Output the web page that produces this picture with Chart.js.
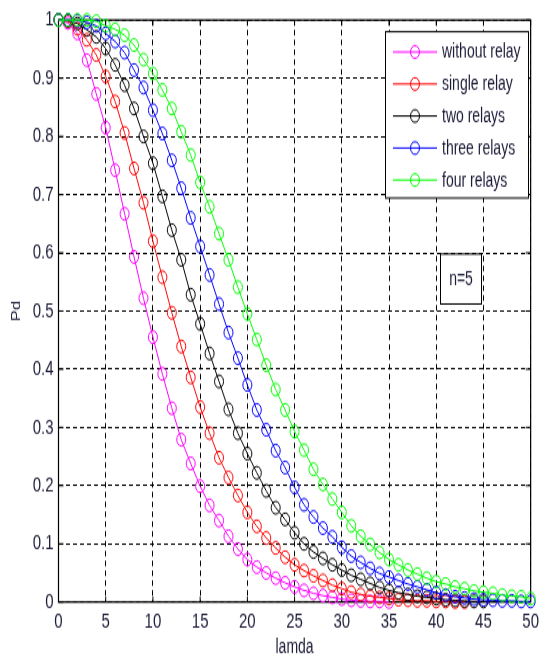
<!DOCTYPE html>
<html>
<head>
<meta charset="utf-8">
<script src="https://cdn.jsdelivr.net/npm/chart.js@4.4.1/dist/chart.umd.min.js"></script>
<style>
body{margin:0;background:#fff;}
</style>
</head>
<body>
<canvas id="grafica" width="544" height="470" style="width:544px;height:660px;display:block"></canvas>
<script>
// values
var lamda = [0,1,2,3,4,5,6,7,8,9,10,11,12,13,14,15,16,17,18,19,20,21,22,23,24,25,
             26,27,28,29,30,31,32,33,34,35,36,37,38,39,40,41,42,43,44,45,46,47,48,49,50];

var withoutRelay = [1.0,0.995,0.977,0.931,0.873,0.815,0.742,0.667,0.593,0.522,0.455,0.392,0.333,0.279,0.238,0.199,
                    0.166,0.140,0.113,0.091,0.073,0.060,0.050,0.041,0.033,0.026,0.020,0.015,0.011,0.008,0.005,
                    0.003,0.002,0.001,0.001,0.000];
var singleRelay = [1.0,0.998,0.985,0.966,0.940,0.903,0.860,0.806,0.745,0.686,0.620,0.558,0.497,0.439,0.386,0.335,
                   0.290,0.248,0.214,0.183,0.154,0.130,0.110,0.093,0.077,0.064,0.054,0.045,0.037,0.029,0.023,
                   0.017,0.013,0.010,0.008,0.006,0.004,0.003,0.002,0.002,0.001,0.001,0.000,0.000];
var twoRelays = [1.0,0.999,0.994,0.983,0.971,0.951,0.923,0.888,0.848,0.800,0.754,0.697,0.639,0.588,0.528,0.478,
                 0.427,0.379,0.331,0.290,0.255,0.222,0.191,0.162,0.142,0.119,0.100,0.086,0.075,0.064,0.055,
                 0.046,0.039,0.032,0.025,0.020,0.016,0.013,0.010,0.008,0.006,0.004,0.003,0.002,0.001,0.001];
var threeRelays = [1.0,1.0,0.999,0.996,0.990,0.977,0.963,0.944,0.914,0.884,0.845,0.805,0.759,0.711,0.660,0.611,
                   0.562,0.512,0.463,0.419,0.373,0.330,0.296,0.260,0.231,0.197,0.167,0.146,0.127,0.112,0.094,
                   0.079,0.068,0.058,0.049,0.043,0.037,0.031,0.026,0.021,0.016,0.012,0.009,0.007,0.005,0.004,
                   0.003,0.002,0.002,0.001,0.001];
var fourRelays = [1.0,1.0,1.0,1.0,0.998,0.990,0.984,0.974,0.957,0.932,0.908,0.880,0.848,0.808,0.768,0.721,
                  0.679,0.633,0.588,0.541,0.495,0.451,0.407,0.365,0.330,0.293,0.261,0.228,0.202,0.177,0.154,
                  0.131,0.113,0.099,0.085,0.073,0.064,0.055,0.048,0.041,0.035,0.031,0.026,0.023,0.019,0.017,
                  0.015,0.012,0.010,0.009,0.006];

var etiquetas = ["without relay", "single relay", "two relays", "three relays", "four relays"];
var colores = ["#ff00ff", "#ff0000", "#000000", "#0000ff", "#00ff00"];
var series = [withoutRelay, singleRelay, twoRelays, threeRelays, fourRelays];
var nota = "n=5";

// the picture is stretched vertically, so the canvas is drawn shorter and scaled up by css
var S = 660 / 470;
var colorTexto = "#1c1c38";
var fuente = "'Liberation Sans', Arial, sans-serif";

function puntos(valores) {
    var p = [];
    for (var i = 0; i < valores.length; i++) {
        p.push({x: lamda[i], y: valores[i]});
    }
    return p;
}

var datasets = [];
for (let i = 0; i < series.length; i++) {
    datasets.push({
        label: etiquetas[i],
        data: puntos(series[i]),
        borderColor: colores[i],
        borderWidth: 1,
        pointStyle: "circle",
        pointRadius: 4.5,
        pointBorderWidth: 1,
        pointBorderColor: colores[i],
        pointBackgroundColor: "rgba(0,0,0,0)",
        tension: 0,
        clip: false,
        order: series.length - i
    });
}

// box round the axes with inward ticks, like matlab
var cajaEjes = {
    id: "cajaEjes",
    beforeDatasetsDraw: function (chart) {
        var ctx = chart.ctx, a = chart.chartArea;
        var sx = chart.scales.x, sy = chart.scales.y;
        ctx.save();
        ctx.setLineDash([]);
        ctx.strokeStyle = "#000";
        ctx.lineWidth = 1;
        ctx.beginPath();
        sx.ticks.forEach(function (t) {
            var px = sx.getPixelForValue(t.value);
            ctx.moveTo(px, a.bottom); ctx.lineTo(px, a.bottom - 4);
            ctx.moveTo(px, a.top); ctx.lineTo(px, a.top + 4);
        });
        sy.ticks.forEach(function (t) {
            var py = sy.getPixelForValue(t.value);
            ctx.moveTo(a.left, py); ctx.lineTo(a.left + 5, py);
            ctx.moveTo(a.right, py); ctx.lineTo(a.right - 5, py);
        });
        ctx.stroke();
        ctx.lineWidth = 1.2;
        ctx.strokeRect(a.left, a.top, a.right - a.left, a.bottom - a.top);
        ctx.restore();
    }
};

// legend with line + marker, and the n=5 note
var leyenda = {
    id: "leyenda",
    afterDraw: function (chart) {
        var ctx = chart.ctx;
        ctx.save();
        ctx.setLineDash([]);
        // legend box
        var x0 = 385.5, x1 = 528.5, y0 = 31.7 / S, y1 = 198 / S;
        ctx.fillStyle = "#fff";
        ctx.fillRect(x0, y0, x1 - x0, y1 - y0);
        ctx.strokeStyle = "#000";
        ctx.lineWidth = 1;
        ctx.strokeRect(x0, y0, x1 - x0, y1 - y0);
        ctx.font = "14px " + fuente;
        ctx.textAlign = "left";
        ctx.textBaseline = "middle";
        chart.data.datasets.forEach(function (ds, i) {
            var y = (52 + i * 32) / S;
            ctx.strokeStyle = ds.borderColor;
            ctx.beginPath();
            ctx.moveTo(393, y); ctx.lineTo(437, y);
            ctx.stroke();
            ctx.beginPath();
            ctx.arc(415, y, 4.5, 0, Math.PI * 2);
            ctx.stroke();
            ctx.fillStyle = colorTexto;
            ctx.fillText(ds.label, 442, y + 0.5);
        });
        // n=5 box
        var bx0 = 440.5, bx1 = 481.5, by0 = 254 / S, by1 = 304 / S;
        ctx.fillStyle = "#fff";
        ctx.fillRect(bx0, by0, bx1 - bx0, by1 - by0);
        ctx.strokeStyle = "#000";
        ctx.strokeRect(bx0, by0, bx1 - bx0, by1 - by0);
        ctx.fillStyle = colorTexto;
        ctx.textAlign = "center";
        ctx.fillText(nota, (bx0 + bx1) / 2, (by0 + by1) / 2 + 0.5);
        ctx.restore();
    }
};

var ctx = document.getElementById("grafica").getContext("2d");
var grafica = new Chart(ctx, {
    type: "line",
    data: {datasets: datasets},
    options: {
        responsive: false,
        animation: false,
        devicePixelRatio: 1,
        layout: {padding: {top: 20 / S, right: 10.5, left: 0, bottom: 0}},
        plugins: {
            legend: {display: false},
            tooltip: {enabled: false}
        },
        scales: {
            x: {
                type: "linear",
                min: 0,
                max: 50,
                ticks: {
                    stepSize: 5,
                    padding: 5,
                    color: colorTexto,
                    font: {family: fuente, size: 15}
                },
                grid: {color: "#000", lineWidth: 1, drawTicks: false},
                border: {display: false, dash: [4, 3]},
                title: {
                    display: true,
                    text: "lamda",
                    color: colorTexto,
                    font: {family: fuente, size: 14},
                    padding: {top: 0, bottom: 0}
                },
                afterFit: function (s) { s.height = 470 - 602 / S; }
            },
            y: {
                type: "linear",
                min: 0,
                max: 1,
                ticks: {
                    stepSize: 0.1,
                    padding: 5,
                    color: colorTexto,
                    font: {family: fuente, size: 15},
                    callback: function (v) { return String(+v.toFixed(1)); }
                },
                grid: {color: "#000", lineWidth: 1, drawTicks: false},
                border: {display: false, dash: [4, 3]},
                title: {
                    display: true,
                    text: "Pd",
                    color: colorTexto,
                    font: {family: fuente, size: 12},
                    padding: {top: 9, bottom: 0}
                },
                afterFit: function (s) { s.width = 58.5; }
            }
        }
    },
    plugins: [cajaEjes, leyenda]
});
</script>
</body>
</html>
